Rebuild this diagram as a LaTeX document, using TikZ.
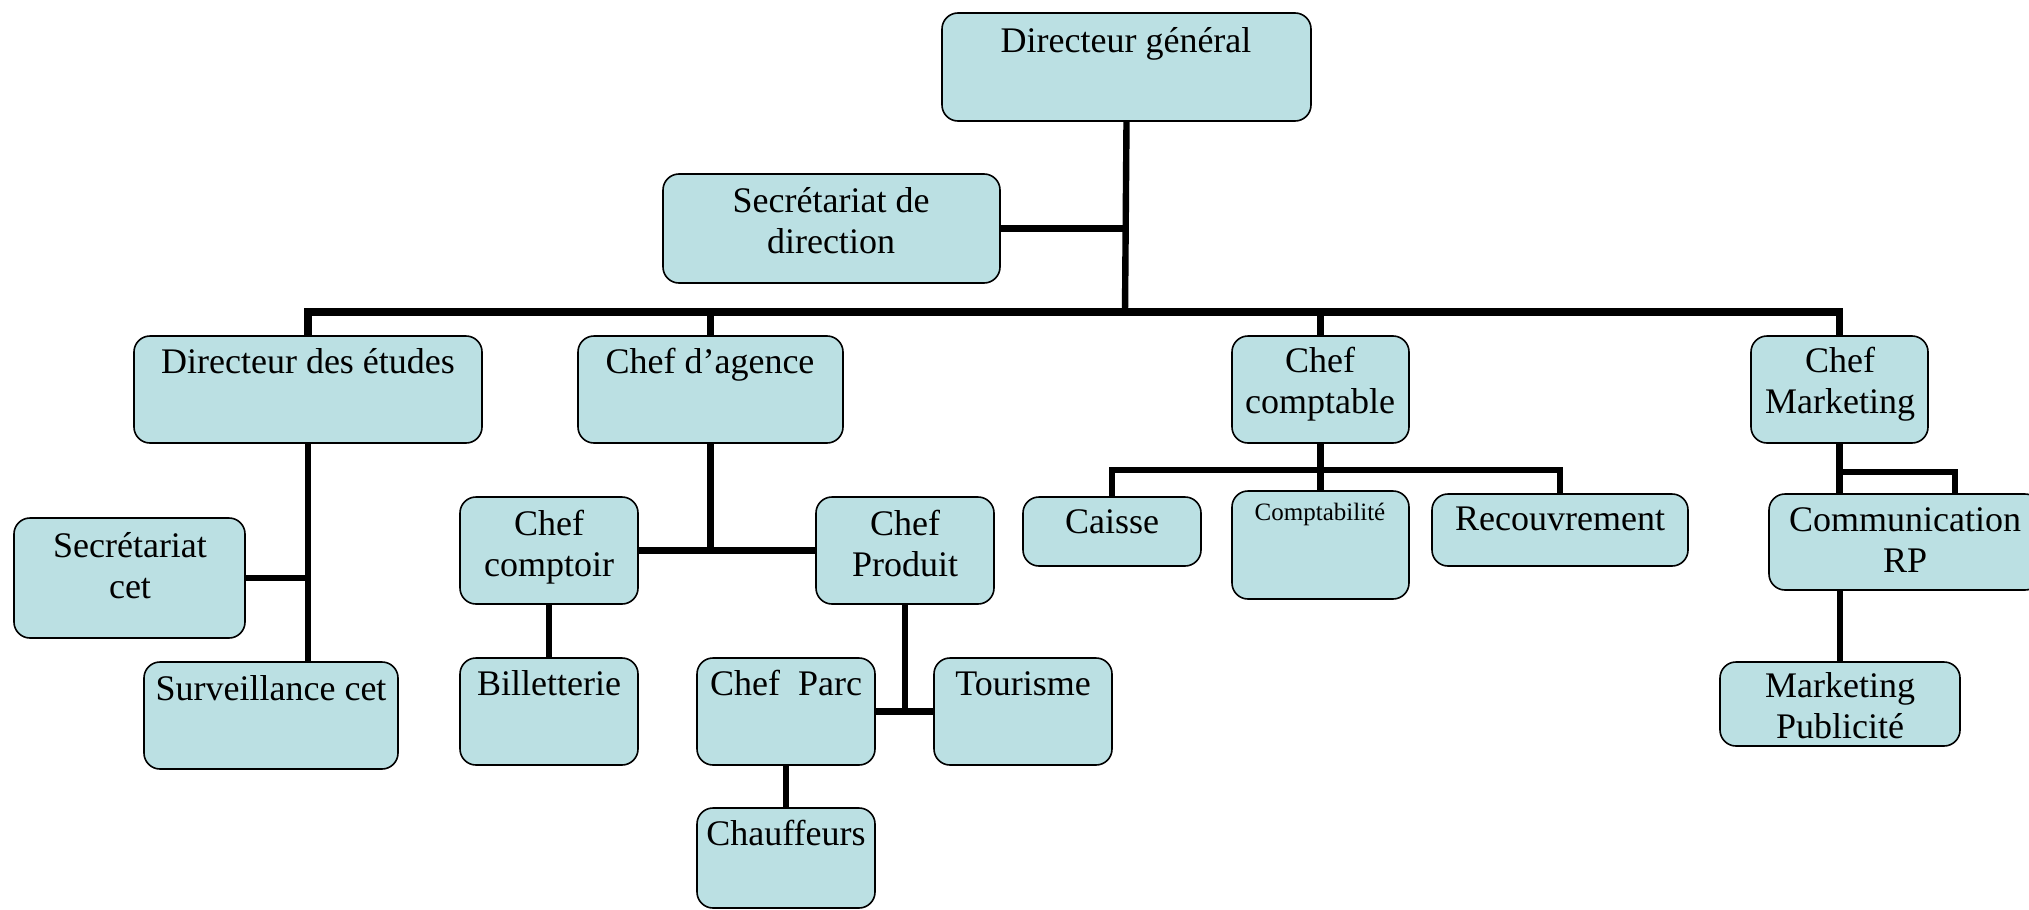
\documentclass[tikz,border=0pt]{standalone}
\usepackage{fontspec}
\setmainfont{Liberation Serif}
\usetikzlibrary{fit}
\definecolor{boxfill}{RGB}{187,224,227}
\tikzset{
  box/.style={draw=black, line width=0.8pt, fill=boxfill, rounded corners=8pt, inner sep=0pt},
  txt/.style={inner sep=0pt, align=center, font=\fontsize{18}{20.5}\selectfont, anchor=base},
  smalltxt/.style={txt, font=\fontsize{12.5}{14}\selectfont},
  conn/.style={line width=3.2pt},
  busline/.style={line width=3.6pt},
}
\begin{document}
\begin{tikzpicture}[x=0.5pt, y=-0.5pt]
\useasboundingbox (0,0) rectangle (2029,910);
% connectors first (behind boxes)
\coordinate (dgbus) at (1125,312);
\coordinate (cabus) at (710.5,550.5);
\coordinate (ccbus) at (1320.5,470);
\coordinate (cmbus) at (1839.5,472);
\coordinate (comdrop) at (1955,494);
% boxes
\node[box, fit={(942,13) (1311,121)}] (dg) {};
\node[box, fit={(663,174) (1000,283)}] (sd) {};
\node[box, fit={(134,336) (482,443)}] (de) {};
\node[box, fit={(578,336) (843,443)}] (ca) {};
\node[box, fit={(1232,336) (1409,443)}] (cc) {};
\node[box, fit={(1751,336) (1928,443)}] (cm) {};
\node[box, fit={(14,518) (245,638)}] (sc) {};
\node[box, fit={(144,662) (398,769)}] (sv) {};
\node[box, fit={(460,497) (638,604)}] (cpt) {};
\node[box, fit={(816,497) (994,604)}] (cp) {};
\node[box, fit={(460,658) (638,765)}] (bil) {};
\node[box, fit={(697,658) (875,765)}] (park) {};
\node[box, fit={(934,658) (1112,765)}] (tour) {};
\node[box, fit={(697,808) (875,908)}] (chf) {};
\node[box, fit={(1023,497) (1201,566)}] (cai) {};
\node[box, fit={(1232,491) (1409,599)}] (cpb) {};
\node[box, fit={(1432,494) (1688,566)}] (rec) {};
\node[box, fit={(1769,494) (2041,590)}] (com) {};
\node[box, fit={(1720,662) (1960,746)}] (mp) {};
% texts (base = baseline of last line)
\node[txt] (dgt) at (1126,52) {Directeur général};
\node[txt] (sdt) at (831,253) {Secrétariat de\\direction};
\node[txt] (det) at (308,373) {Directeur des études};
\node[txt] (cat) at (710,373) {Chef d’agence};
\node[txt] (cct) at (1320,413) {Chef\\comptable};
\node[txt] (cmt) at (1840,413) {Chef\\Marketing};
\node[txt] (sct) at (130,598) {Secrétariat\\cet};
\node[txt] (svt) at (271,700) {Surveillance cet};
\node[txt] (cptt) at (549,576) {Chef\\comptoir};
\node[txt] (cpt2) at (905,576) {Chef\\Produit};
\node[txt] (bilt) at (549,695) {Billetterie};
\node[txt] (parkt) at (786,695) {Chef\ \ Parc};
\node[txt] (tourt) at (1023,695) {Tourisme};
\node[txt] (chft) at (786,845) {Chauffeurs};
\node[txt] (cait) at (1112,533) {Caisse};
\node[smalltxt] (cpbt) at (1320,520) {Comptabilité};
\node[txt] (rect) at (1560,530) {Recouvrement};
\node[txt] (comt) at (1905,572) {Communication\\RP};
\node[txt] (mpt) at (1840,738) {Marketing\\Publicité};
% connectors
\draw[conn] (dg.south) -- (dgbus);
\draw[conn] (sd.east) -- (sd.east -| dg.south);
\draw[busline] (de.north) |- (dgbus) -| (cm.north);
\draw[conn] (ca.north) -- (ca.north |- dgbus);
\draw[conn] (cc.north) -- (cc.north |- dgbus);
% etudes
\draw[conn] (de.south) -- (de.south |- sv.north);
\draw[conn] (sc.east) -- (sc.east -| de.south);
% agence
\draw[conn] (ca.south) -- (cabus);
\draw[conn] (cpt.east) -- (cp.west);
\draw[conn] (cpt.south) -- (bil.north);
\draw[conn] (cp.south) -- (cp.south |- park.east);
\draw[conn] (park.east) -- (tour.west);
\draw[conn] (park.south) -- (chf.north);
% comptable
\draw[conn] (cc.south) -- (ccbus);
\draw[conn] (cai.north) |- (ccbus) -| (rec.north);
\draw[conn] (cpb.north) -- (cpb.north |- ccbus);
% marketing
\draw[conn] (cm.south) -- (cm.south |- com.north);
\draw[conn] (cmbus) -| (comdrop);
\draw[conn] (mp.north) -- (mp.north |- com.south);
\end{tikzpicture}
\end{document}
